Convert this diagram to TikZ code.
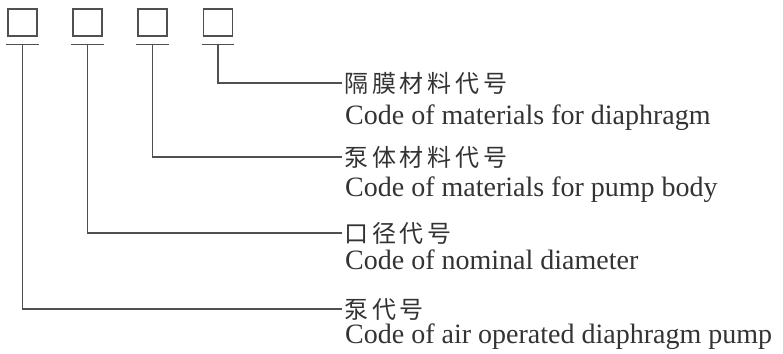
\documentclass[tikz,border=0pt]{standalone}
\usepackage{fontspec}
\setmainfont{Liberation Serif}
\newfontfamily\cjk[LetterSpace=16]{Noto Sans CJK SC}
\definecolor{ink}{HTML}{333333}
\definecolor{linec}{HTML}{505050}
\begin{document}
\begin{tikzpicture}[x=1pt,y=-1pt,
  codebox/.style={draw=linec,line width=1.3pt,minimum width=29pt,minimum height=27pt,inner sep=0pt},
  conn/.style={draw=linec,line width=1.4pt},
  zh/.style={anchor=base west,inner sep=0pt,font=\cjk\fontsize{24}{24}\selectfont,text=ink},
  en/.style={anchor=base west,inner sep=0pt,font=\fontsize{28}{28}\selectfont,text=ink}]
\useasboundingbox (0,0) rectangle (783,353);
% boxes
\node[codebox] (b1) at (22.5,22.5) {};
\node[codebox] (b2) at (87.5,22.5) {};
\node[codebox] (b3) at (152.5,22.5) {};
\node[codebox] (b4) at (218,22.5) {};
% underlines
\foreach \i in {1,2,3,4}{
  \coordinate (ul\i) at ([xshift=-1pt,yshift=-8pt]b\i.south west);
  \coordinate (ur\i) at ([xshift=1pt,yshift=-8pt]b\i.south east);
  \coordinate (u\i) at ([yshift=-8pt]b\i.south);
  \draw[conn] (ul\i) -- (ur\i);
}
% line ends
\coordinate (e4) at (342,83);
\coordinate (e3) at (342,157);
\coordinate (e2) at (342,233);
\coordinate (e1) at (342,309);
\foreach \i in {1,2,3,4}{\draw[conn] (u\i) |- (e\i);}
% labels
\node[zh] (z4) at (344,92) {隔膜材料代号};
\node[en] (t4) at (345,124) {Code of materials for diaphragm};
\node[zh] (z3) at (344,166) {泵体材料代号};
\node[en] (t3) at (345,196) {Code of materials for pump body};
\node[zh] (z2) at (344,242) {口径代号};
\node[en] (t2) at (345,269) {Code of nominal diameter};
\node[zh] (z1) at (344,318) {泵代号};
\node[en] (t1) at (345,343) {Code of air operated diaphragm pump};
\end{tikzpicture}
\end{document}
